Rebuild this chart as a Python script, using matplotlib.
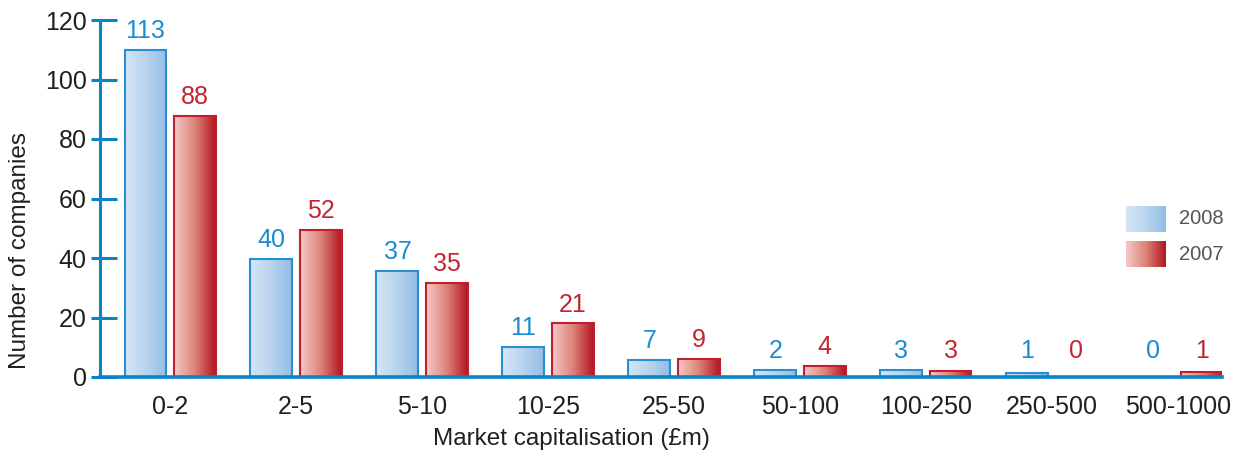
"""Number of companies by market capitalisation, 2008 vs 2007"""

import numpy as np
import matplotlib
matplotlib.use("Agg")
import matplotlib.pyplot as plt
from matplotlib.colors import LinearSegmentedColormap
from matplotlib.ticker import FixedLocator

categories = ["0-2", "2-5", "5-10", "10-25", "25-50", "50-100", "100-250", "250-500", "500-1000"]
series = ["2008", "2007"]

# value labels as printed on the chart
labels_2008 = [113, 40, 37, 11, 7, 2, 3, 1, 0]
labels_2007 = [88, 52, 35, 21, 9, 4, 3, 0, 1]

# bar heights as drawn in the picture (the artwork does not match the labels exactly)
heights_2008 = [110, 39.6, 35.6, 10.0, 5.7, 2.3, 2.3, 1.2, 0]
heights_2007 = [87.7, 49.4, 31.7, 18.0, 6.0, 3.7, 2.1, 0, 1.6]

yticks = [0, 20, 40, 60, 80, 100, 120]

AXIS_BLUE = "#0a84c8"
TEXT = "#231f20"
styles = {
    "2008": dict(edge="#2a8fd2", text="#1a8cd0",
                 cmap=LinearSegmentedColormap.from_list("b", ["#d6e6f6", "#b8d4ee", "#93bee5"])),
    "2007": dict(edge="#c01f2f", text="#c4242f",
                 cmap=LinearSegmentedColormap.from_list("r", ["#f5c9c7", "#dc8378", "#b3141f"])),
}


def gradient_bars(ax, x, heights, width, style):
    bars = ax.bar(x, heights, width, facecolor="none", edgecolor=style["edge"],
                  linewidth=1.5, zorder=3)
    grad = np.linspace(0, 1, 256).reshape(1, -1)
    for b in bars:
        if b.get_height() <= 0:
            b.set_visible(False)
            continue
        x0, w, h = b.get_x(), b.get_width(), b.get_height()
        ax.imshow(grad, cmap=style["cmap"], extent=[x0, x0 + w, 0, h],
                  aspect="auto", interpolation="bilinear", zorder=2)
    return bars


def main():
    plt.rcParams["font.family"] = ["Liberation Sans", "DejaVu Sans"]

    fig = plt.figure(figsize=(12.35, 4.51), dpi=100)
    ax = fig.add_axes([100 / 1235, 74 / 451, 1122 / 1235, 357 / 451])

    x = np.arange(len(categories))
    width = 0.333
    offset = 0.195

    for name, xs, hs, labs in [("2008", x - offset, heights_2008, labels_2008),
                               ("2007", x + offset, heights_2007, labels_2007)]:
        st = styles[name]
        gradient_bars(ax, xs, hs, width, st)
        for xi, h, lab in zip(xs, hs, labs):
            ax.annotate(str(lab), (xi, max(h, 2.3)), xytext=(0, 5),
                        textcoords="offset points", ha="center", va="bottom",
                        fontsize=18, color=st["text"])

    ax.set_xlim(-0.556, 8.35)
    ax.set_ylim(0, 120)

    for s in ["top", "right"]:
        ax.spines[s].set_visible(False)
    ax.spines["left"].set_color(AXIS_BLUE)
    ax.spines["left"].set_linewidth(2.2)
    ax.spines["bottom"].set_color(AXIS_BLUE)
    ax.spines["bottom"].set_linewidth(2.6)
    ax.spines["bottom"].set_zorder(4)

    # ticks reach further inside than outside: major ticks in, minor ticks out
    ax.set_yticks(yticks)
    ax.yaxis.set_minor_locator(FixedLocator(yticks))
    ax.yaxis.remove_overlapping_locs = False
    ax.tick_params(axis="y", which="major", direction="in", length=12, width=2.2,
                   color=AXIS_BLUE, labelsize=18, labelcolor=TEXT, pad=9.5)
    ax.tick_params(axis="y", which="minor", direction="out", length=6.5, width=2.2,
                   color=AXIS_BLUE)
    ax.set_xticks(x)
    ax.set_xticklabels(categories)
    ax.tick_params(axis="x", length=0, labelsize=18, labelcolor=TEXT, pad=13)

    ax.set_xlabel("Market capitalisation (£m)", fontsize=17.5, color=TEXT)
    ax.xaxis.set_label_coords(0.42, -0.143)
    ax.set_ylabel("Number of companies", fontsize=17.5, color=TEXT)
    ax.yaxis.set_label_coords(-0.0615, 0.353)

    # legend swatches with the same gradients
    grad = np.linspace(0, 1, 256).reshape(1, -1)
    for i, name in enumerate(series):
        top = 206 + i * 35
        lax = fig.add_axes([1126 / 1235, (451 - top - 26) / 451, 40 / 1235, 26 / 451])
        lax.imshow(grad, cmap=styles[name]["cmap"], aspect="auto", interpolation="bilinear")
        lax.axis("off")
        fig.text(1179 / 1235, (451 - top - 13) / 451, name, fontsize=14.5, color="#555555",
                 va="center", ha="left")

    fig.savefig("out.png", dpi=100)


if __name__ == "__main__":
    main()
